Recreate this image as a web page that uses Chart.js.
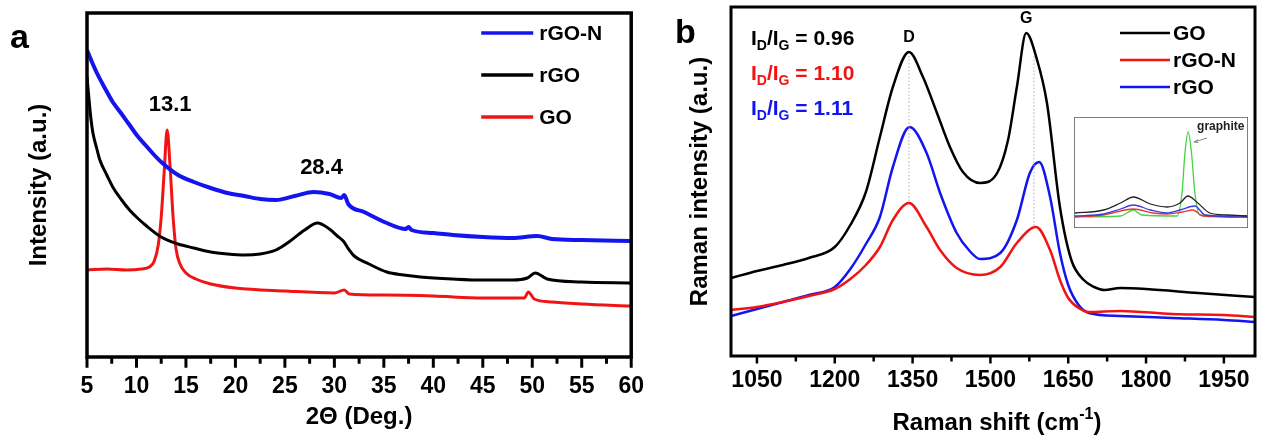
<!DOCTYPE html>
<html lang="en">
<head>
<meta charset="UTF-8" />
<title>XRD and Raman spectra</title>
<script src="https://cdn.jsdelivr.net/npm/chart.js@4.4.1/dist/chart.umd.min.js"></script>
<style>
  body { margin: 0; background: #fff; }
  #fig { position: relative; width: 1268px; height: 439px; }
  #fig canvas { position: absolute; }
</style>
</head>
<body>
<div id="fig">
  <canvas id="xrd" width="660" height="439" style="left:0;top:0"></canvas>
  <canvas id="raman" width="608" height="439" style="left:660px;top:0"></canvas>
  <canvas id="inset" width="174" height="111" style="left:1074px;top:117px"></canvas>
</div>
<script>
// (a) XRD patterns, 2θ in degrees, intensity in a.u.
var xrdTicks = [5, 10, 15, 20, 25, 30, 35, 40, 45, 50, 55, 60];
var xrdMinor = [7.5, 12.5, 17.5, 22.5, 27.5, 32.5, 37.5, 42.5, 47.5, 52.5, 57.5];
var xrdPeaks = [13.1, 28.4];

var rgonTheta = [5.0, 5.5, 6.0, 6.8, 7.6, 8.5, 9.3, 10.1, 10.9, 11.7, 12.5, 14.2, 15.8, 17.5, 19.2, 20.9, 22.5, 24.1, 26.0, 27.9, 29.5, 30.7, 31.0, 31.4, 33.0, 35.3, 37.2, 37.5, 37.8, 40.0, 42.0, 45.0, 48.0, 50.5, 52.0, 55.0, 60.0];
var rgonXrd = [307, 295, 284, 269, 255, 243, 232, 221, 212, 203, 195, 182, 175, 169, 164, 161, 158, 157, 161, 165, 163, 159, 162, 153, 145, 134, 128, 130, 127, 124, 122, 120, 119, 121, 118, 117, 116];

var rgoTheta = [5.0, 5.2, 5.4, 5.6, 6.0, 6.3, 7.0, 7.6, 8.5, 9.3, 10.1, 10.9, 12.5, 14.2, 15.8, 17.5, 19.2, 20.9, 22.5, 24.1, 25.4, 27.0, 28.3, 29.5, 30.3, 30.9, 31.5, 32.0, 33.5, 35.3, 37.0, 38.7, 42.0, 45.0, 48.0, 49.5, 50.3, 51.5, 55.0, 60.0];
var rgoXrd = [280, 258, 238, 224, 208, 197, 182, 170, 157, 147, 139, 132, 120, 113, 109, 105, 103, 102, 103, 107, 115, 127, 134, 128, 121, 116, 107, 101, 93, 85, 82, 80, 78, 77, 77, 79, 84, 78, 75, 74];

var goTheta = [5.0, 7.0, 9.0, 10.5, 11.3, 11.8, 12.2, 12.5, 12.8, 13.1, 13.4, 13.7, 14.0, 14.4, 15.0, 16.0, 17.5, 20.0, 25.0, 30.0, 31.0, 31.5, 35.0, 40.0, 45.0, 49.2, 49.6, 50.2, 52.0, 55.0, 60.0];
var goXrd = [87, 88, 87, 88, 90, 96, 112, 140, 185, 227, 190, 140, 108, 93, 84, 78, 73, 69, 66, 64, 67, 63, 62, 61, 59, 59, 65, 58, 55, 53, 51];

// (b) Raman spectra, shift in cm-1
var ramanTicks = [1050, 1200, 1350, 1500, 1650, 1800, 1950];
var ramanMinor = [1125, 1275, 1425, 1575, 1725, 1875];
var bandNames = ['D', 'G'];
var bandShift = [1343, 1584];
var ratioValues = ['0.96', '1.10', '1.11'];

var goShift = [1000, 1050, 1100, 1150, 1200, 1230, 1260, 1287, 1312, 1343, 1370, 1397, 1422, 1447, 1480, 1513, 1534, 1551, 1569, 1590, 1609, 1634, 1656, 1680, 1700, 1720, 1750, 1800, 1900, 2010];
var goRaman = [79, 86, 92, 99, 110, 132, 165, 220, 270, 305, 280, 244, 210, 185, 174, 184, 217, 270, 324, 297, 254, 150, 97, 77, 70, 67, 69, 68, 64, 60];

var rgonShift = [1000, 1050, 1100, 1150, 1200, 1230, 1260, 1287, 1312, 1343, 1377, 1403, 1435, 1480, 1519, 1551, 1588, 1615, 1634, 1650, 1670, 1690, 1750, 1850, 1950, 2010];
var rgonRaman = [47, 50, 55, 61, 68, 78, 92, 110, 137, 154, 130, 107, 89, 82, 90, 114, 130, 107, 77, 59, 49, 45, 46, 43, 42, 40];

var rgoShift = [1000, 1050, 1100, 1150, 1200, 1230, 1260, 1287, 1312, 1344, 1377, 1403, 1435, 1460, 1480, 1519, 1551, 1576, 1594, 1615, 1634, 1650, 1670, 1690, 1750, 1850, 1950, 2010];
var rgoRaman = [41, 48, 55, 62, 70, 88, 113, 140, 190, 230, 204, 164, 124, 106, 98, 104, 137, 184, 195, 160, 104, 72, 52, 44, 41, 39, 37, 35];

// inset: same samples against graphite
var inGoShift = [1084, 1211, 1286, 1343, 1418, 1492, 1549, 1584, 1628, 1681, 1760, 1847];
var inGo = [15, 18, 25, 31, 24, 21, 25, 32, 25, 15, 13, 12];
var inRgoShift = [1084, 1211, 1286, 1343, 1418, 1492, 1549, 1615, 1660, 1847];
var inRgo = [12, 14, 19, 23, 18, 15, 18, 22, 13, 11];
var inRgonShift = [1084, 1211, 1343, 1430, 1492, 1560, 1606, 1650, 1847];
var inRgon = [11, 13, 19, 15, 14, 16, 18, 12, 11];
var graphiteShift = [1084, 1286, 1343, 1380, 1536, 1558, 1571, 1585, 1600, 1615, 1637, 1847];
var graphite = [11, 12, 18, 13, 12, 35, 75, 96, 75, 35, 13, 12];

var FONT = '"Liberation Sans", Arial, sans-serif';
Chart.defaults.font.family = FONT;
Chart.defaults.color = '#000';

var BLUE = '#1414f0', RED = '#f01414', BLACK = '#000000', GREEN = '#44d444';

function pts(xs, ys) {
  return xs.map(function (x, i) { return {x: x, y: ys[i]}; });
}

function interp(data, v) {
  for (var i = 1; i < data.length; i++) {
    if (data[i].x >= v) {
      var a = data[i - 1], b = data[i];
      return a.y + (b.y - a.y) * (v - a.x) / (b.x - a.x);
    }
  }
  return data[data.length - 1].y;
}

function line(label, data, color, width) {
  return {label: label, data: data, borderColor: color, borderWidth: width,
          pointRadius: 0, cubicInterpolationMode: 'monotone', fill: false};
}

// box round the plot plus outward ticks on the x axis
var frame = {
  id: 'frame',
  afterDraw: function (chart, args, o) {
    var ctx = chart.ctx, a = chart.chartArea, x = chart.scales.x;
    ctx.save();
    ctx.strokeStyle = o.color || '#000';
    if (o.fill) {
      ctx.globalCompositeOperation = 'destination-over';
      ctx.fillStyle = o.fill;
      ctx.fillRect(0, 0, chart.width, chart.height);
      ctx.globalCompositeOperation = 'source-over';
    }
    ctx.lineWidth = o.width;
    ctx.strokeRect(a.left, a.top, a.right - a.left, a.bottom - a.top);
    if (o.major) {
      ctx.lineWidth = o.tickWidth;
      var tick = function (v, len) {
        var p = x.getPixelForValue(v);
        ctx.beginPath();
        ctx.moveTo(p, a.bottom);
        ctx.lineTo(p, a.bottom + o.width / 2 + len);
        ctx.stroke();
      };
      o.major.forEach(function (v) { tick(v, o.majorLen); });
      o.minor.forEach(function (v) { tick(v, o.minorLen); });
    }
    ctx.restore();
  }
};

// line-sample key inside the plot
var lineKey = {
  id: 'lineKey',
  afterDraw: function (chart, args, o) {
    if (!o.len) return;
    var ctx = chart.ctx, a = chart.chartArea;
    ctx.save();
    ctx.font = 'bold ' + o.size + 'px ' + FONT;
    ctx.textBaseline = 'middle';
    chart.data.datasets.forEach(function (ds, i) {
      var y = a.top + o.top + i * o.gap;
      var x0 = a.right - o.right;
      ctx.strokeStyle = ds.borderColor;
      ctx.lineWidth = o.lineWidth;
      ctx.beginPath();
      ctx.moveTo(x0, y);
      ctx.lineTo(x0 + o.len, y);
      ctx.stroke();
      ctx.fillStyle = '#000';
      ctx.fillText(ds.label, x0 + o.len + o.textGap, y + 1);
    });
    ctx.restore();
  }
};

// text with "_X" parts set as subscripts and "^X" as superscripts
function richText(ctx, x, y, parts, size, align) {
  var widths = parts.map(function (p) {
    var small = p[0] === '_' || p[0] === '^';
    ctx.font = 'bold ' + (small ? Math.round(size * 0.65) : size) + 'px ' + FONT;
    return ctx.measureText(small ? p.slice(1) : p).width;
  });
  var total = widths.reduce(function (s, w) { return s + w; }, 0);
  var cx = align === 'center' ? x - total / 2 : x;
  ctx.textAlign = 'left';
  ctx.textBaseline = 'alphabetic';
  parts.forEach(function (p, i) {
    var small = p[0] === '_' || p[0] === '^';
    var dy = p[0] === '_' ? size * 0.25 : (p[0] === '^' ? -size * 0.45 : 0);
    ctx.font = 'bold ' + (small ? Math.round(size * 0.65) : size) + 'px ' + FONT;
    ctx.fillText(small ? p.slice(1) : p, cx, y + dy);
    cx += widths[i];
  });
}

var xrdNotes = {
  id: 'xrdNotes',
  afterDraw: function (chart) {
    var ctx = chart.ctx, x = chart.scales.x, y = chart.scales.y;
    ctx.save();
    ctx.fillStyle = '#000';
    ctx.font = 'bold 22px ' + FONT;
    ctx.textAlign = 'center';
    xrdPeaks.forEach(function (p) {
      var top = Math.max.apply(null, chart.data.datasets.map(function (ds) { return interp(ds.data, p); }));
      ctx.fillText(p.toFixed(1), x.getPixelForValue(p) + 3, y.getPixelForValue(top) - 19);
    });
    ctx.textAlign = 'left';
    ctx.font = 'bold 34px ' + FONT;
    ctx.fillText('a', 10, 48);
    ctx.restore();
  }
};

var ramanNotes = {
  id: 'ramanNotes',
  afterDraw: function (chart) {
    var ctx = chart.ctx, a = chart.chartArea, x = chart.scales.x, y = chart.scales.y;
    var sets = chart.data.datasets;
    var top = sets[0], bottom = sets[1];
    ctx.save();
    // guide lines and band names
    bandShift.forEach(function (s, i) {
      var px = x.getPixelForValue(s);
      ctx.strokeStyle = '#b0b0b0';
      ctx.lineWidth = 1;
      ctx.setLineDash([1.5, 2]);
      ctx.beginPath();
      ctx.moveTo(px, y.getPixelForValue(interp(top.data, s)) + 4);
      ctx.lineTo(px, y.getPixelForValue(interp(bottom.data, s)));
      ctx.stroke();
      ctx.setLineDash([]);
      // name sits over the highest point of the top trace near the band
      var best = top.data.filter(function (d) { return Math.abs(d.x - s) < 40; })
        .reduce(function (m, d) { return d.y > m.y ? d : m; });
      ctx.fillStyle = '#000';
      ctx.font = 'bold 16px ' + FONT;
      ctx.textAlign = 'center';
      ctx.fillText(bandNames[i], x.getPixelForValue(best.x), y.getPixelForValue(best.y) - 10);
    });
    // intensity ratios
    sets.forEach(function (ds, i) {
      ctx.fillStyle = ds.borderColor;
      richText(ctx, a.left + 20, a.top + 38 + i * 35, ['I', '_D', '/I', '_G', ' = ' + ratioValues[i]], 21, 'left');
    });
    ctx.fillStyle = '#000';
    richText(ctx, (a.left + a.right) / 2 + 4, 430, ['Raman shift (cm', '^-1', ')'], 24, 'center');
    ctx.font = 'bold 34px ' + FONT;
    ctx.textAlign = 'left';
    ctx.fillText('b', 15, 43);
    ctx.restore();
  }
};

function axisX(min, max, tickValues, height, pad, title) {
  return {
    type: 'linear', min: min, max: max,
    grid: {display: false, drawTicks: false},
    border: {display: false},
    afterBuildTicks: function (s) { s.ticks = tickValues.map(function (v) { return {value: v}; }); },
    afterFit: function (s) { s.height = height; },
    ticks: {padding: pad, font: {size: 23, weight: 'bold'}, maxRotation: 0,
            callback: function (v) { return String(v); }},
    title: title ? {display: true, text: title, font: {size: 24, weight: 'bold'}, padding: {top: 0, bottom: 7}} : {display: false}
  };
}

function axisY(min, max, width, title, pad) {
  return {
    min: min, max: max,
    grid: {display: false, drawTicks: false},
    border: {display: false},
    ticks: {display: false},
    afterFit: function (s) { s.width = width; },
    title: {display: true, text: title, font: {size: 24, weight: 'bold'}, padding: {top: pad, bottom: 0}}
  };
}

new Chart(document.getElementById('xrd'), {
  type: 'line',
  data: {datasets: [
    line('rGO-N', pts(rgonTheta, rgonXrd), BLUE, 4),
    line('rGO', pts(rgoTheta, rgoXrd), BLACK, 3),
    line('GO', pts(goTheta, goXrd), RED, 3)
  ]},
  options: {
    responsive: false, animation: false, devicePixelRatio: 1,
    layout: {padding: {top: 13, right: 19, left: 0, bottom: 0}},
    scales: {
      x: axisX(5, 60, xrdTicks, 82, 16, '2\u0398 (Deg.)'),
      y: axisY(0, 344, 87, 'Intensity (a.u.)', 25)
    },
    plugins: {
      legend: {display: false}, tooltip: {enabled: false},
      frame: {width: 3.5, tickWidth: 3, major: xrdTicks, minor: xrdMinor, majorLen: 9, minorLen: 5},
      lineKey: {size: 21, top: 20, gap: 42, right: 150, len: 52, textGap: 6, lineWidth: 3.5}
    }
  },
  plugins: [frame, lineKey, xrdNotes]
});

new Chart(document.getElementById('raman'), {
  type: 'line',
  data: {datasets: [
    line('GO', pts(goShift, goRaman), BLACK, 2.5),
    line('rGO-N', pts(rgonShift, rgonRaman), RED, 2.5),
    line('rGO', pts(rgoShift, rgoRaman), BLUE, 2.5)
  ]},
  options: {
    responsive: false, animation: false, devicePixelRatio: 1,
    layout: {padding: {top: 7, right: 13, left: 0, bottom: 0}},
    scales: {
      x: axisX(1000, 2010, ramanTicks, 83, 11, null),
      y: axisY(1, 350, 71, 'Raman intensity (a.u.)', 26)
    },
    plugins: {
      legend: {display: false}, tooltip: {enabled: false},
      frame: {width: 3, tickWidth: 2.5, major: ramanTicks, minor: ramanMinor, majorLen: 6, minorLen: 4},
      lineKey: {size: 21, top: 26, gap: 27, right: 135, len: 50, textGap: 3, lineWidth: 2.5}
    }
  },
  plugins: [frame, lineKey, ramanNotes]
});

var graphiteTag = {
  id: 'graphiteTag',
  afterDraw: function (chart) {
    var ctx = chart.ctx, x = chart.scales.x, y = chart.scales.y;
    var g = chart.data.datasets[3].data.reduce(function (m, d) { return d.y > m.y ? d : m; });
    var px = x.getPixelForValue(g.x), py = y.getPixelForValue(g.y);
    ctx.save();
    ctx.fillStyle = '#222';
    ctx.font = 'bold 12px ' + FONT;
    ctx.textBaseline = 'middle';
    ctx.fillText('graphite', px + 9, py - 5);
    ctx.strokeStyle = '#888';
    ctx.lineWidth = 1;
    ctx.beginPath();
    ctx.moveTo(px + 19, py + 6);
    ctx.lineTo(px + 6, py + 10);
    ctx.stroke();
    ctx.beginPath();
    ctx.moveTo(px + 6, py + 10);
    ctx.lineTo(px + 10, py + 7.5);
    ctx.moveTo(px + 6, py + 10);
    ctx.lineTo(px + 10.5, py + 10.5);
    ctx.stroke();
    ctx.restore();
  }
};

new Chart(document.getElementById('inset'), {
  type: 'line',
  data: {datasets: [
    line('GO', pts(inGoShift, inGo), '#222222', 1.3),
    line('rGO', pts(inRgoShift, inRgo), '#3a3ae0', 1.3),
    line('rGO-N', pts(inRgonShift, inRgon), '#e03a3a', 1.3),
    line('graphite', pts(graphiteShift, graphite), GREEN, 1.3)
  ]},
  options: {
    responsive: false, animation: false, devicePixelRatio: 1,
    layout: {padding: 0},
    scales: {
      x: {type: 'linear', display: false, min: 1080, max: 1850},
      y: {display: false, min: 0, max: 111}
    },
    plugins: {
      legend: {display: false}, tooltip: {enabled: false},
      frame: {width: 1.5, color: '#555', fill: '#fff'}
    }
  },
  plugins: [frame, graphiteTag]
});
</script>
</body>
</html>
